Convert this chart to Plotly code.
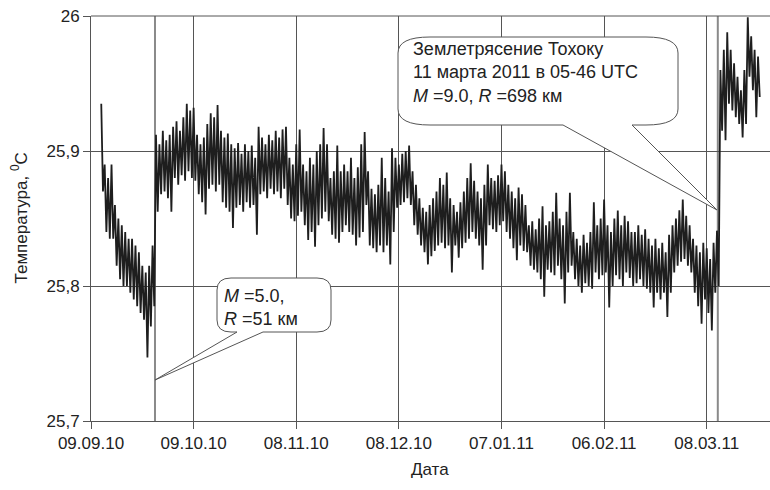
import pandas as pd
import plotly.graph_objects as go

# ---- data ----
start_date = "2010-09-09"
first_day = 3  # first sample day after start_date

# daily upper envelope of the temperature record, deg C
hi = [
    25.935, 25.89, 25.88, 25.89, 25.86, 25.85, 25.845, 25.84, 25.835, 25.835,      # d3-12
    25.83, 25.825, 25.815, 25.81, 25.815, 25.83, 25.912, 25.905, 25.915, 25.908,   # d13-22
    25.912, 25.918, 25.922, 25.915, 25.925, 25.935, 25.93, 25.932, 25.912, 25.905, # d23-32
    25.91, 25.92, 25.928, 25.925, 25.934, 25.915, 25.91, 25.913, 25.905, 25.902,   # d33-42
    25.906, 25.898, 25.905, 25.90, 25.904, 25.895, 25.918, 25.91, 25.905, 25.912,  # d43-52
    25.908, 25.915, 25.91, 25.916, 25.918, 25.895, 25.89, 25.905, 25.916, 25.89,   # d53-62
    25.885, 25.895, 25.89, 25.90, 25.905, 25.917, 25.905, 25.88, 25.885, 25.904,   # d63-72
    25.885, 25.89, 25.885, 25.895, 25.88, 25.888, 25.905, 25.914, 25.885, 25.872,  # d73-82
    25.868, 25.875, 25.895, 25.88, 25.87, 25.902, 25.895, 25.89, 25.898, 25.90,    # d83-92
    25.904, 25.885, 25.875, 25.865, 25.858, 25.855, 25.86, 25.865, 25.87, 25.88,   # d93-102
    25.875, 25.884, 25.865, 25.86, 25.855, 25.862, 25.87, 25.88, 25.891, 25.878,   # d103-112
    25.87, 25.865, 25.875, 25.89, 25.88, 25.878, 25.882, 25.89, 25.885, 25.875,    # d113-122
    25.87, 25.865, 25.873, 25.868, 25.86, 25.845, 25.848, 25.842, 25.85, 25.859,   # d123-132
    25.845, 25.848, 25.855, 25.869, 25.85, 25.845, 25.855, 25.869, 25.84, 25.835,  # d133-142
    25.83, 25.838, 25.832, 25.84, 25.862, 25.845, 25.85, 25.864, 25.845, 25.84,    # d143-152
    25.85, 25.856, 25.845, 25.852, 25.848, 25.84, 25.84, 25.845, 25.838, 25.842,   # d153-162
    25.835, 25.83, 25.835, 25.828, 25.832, 25.825, 25.838, 25.845, 25.85, 25.856,  # d163-172
    25.864, 25.852, 25.845, 25.835, 25.83, 25.825, 25.832, 25.828, 25.82, 25.832,  # d173-182
    25.841, 25.96, 25.975, 25.988, 25.975, 25.965, 25.955, 25.945, 25.96, 25.999,  # d183-192
    25.985, 25.975, 25.97,                                                         # d193-195
]
# daily lower envelope, deg C
lo = [
    25.87, 25.84, 25.835, 25.835, 25.815, 25.805, 25.80, 25.80, 25.795, 25.79,
    25.785, 25.78, 25.775, 25.747, 25.77, 25.785, 25.855, 25.868, 25.87, 25.865,
    25.855, 25.88, 25.875, 25.882, 25.878, 25.885, 25.88, 25.878, 25.868, 25.862,
    25.853, 25.872, 25.875, 25.87, 25.875, 25.862, 25.858, 25.855, 25.843, 25.858,
    25.86, 25.855, 25.862, 25.858, 25.86, 25.838, 25.868, 25.87, 25.865, 25.872,
    25.868, 25.87, 25.865, 25.872, 25.86, 25.85, 25.848, 25.852, 25.855, 25.845,
    25.834, 25.84, 25.829, 25.845, 25.85, 25.855, 25.848, 25.838, 25.835, 25.832,
    25.84, 25.845, 25.84, 25.838, 25.83, 25.836, 25.84, 25.86, 25.83, 25.828,
    25.825, 25.83, 25.825, 25.83, 25.816, 25.84, 25.858, 25.86, 25.862, 25.865,
    25.86, 25.845, 25.838, 25.83, 25.825, 25.816, 25.822, 25.826, 25.83, 25.832,
    25.828, 25.83, 25.81, 25.83, 25.821, 25.828, 25.832, 25.835, 25.84, 25.835,
    25.83, 25.812, 25.83, 25.845, 25.842, 25.84, 25.845, 25.848, 25.84, 25.835,
    25.828, 25.819, 25.83, 25.826, 25.825, 25.815, 25.812, 25.81, 25.805, 25.792,
    25.812, 25.81, 25.808, 25.815, 25.805, 25.787, 25.81, 25.815, 25.805, 25.80,
    25.795, 25.802, 25.80, 25.798, 25.81, 25.805, 25.808, 25.81, 25.784, 25.80,
    25.808, 25.805, 25.80, 25.81, 25.806, 25.80, 25.802, 25.805, 25.80, 25.798,
    25.795, 25.784, 25.795, 25.79, 25.795, 25.777, 25.795, 25.81, 25.815, 25.818,
    25.82, 25.815, 25.81, 25.795, 25.785, 25.772, 25.79, 25.78, 25.767, 25.795,
    25.80, 25.915, 25.908, 25.935, 25.93, 25.925, 25.92, 25.91, 25.92, 25.955,
    25.945, 25.925, 25.94,
]

tick_dates = ["2010-09-09", "2010-10-09", "2010-11-08", "2010-12-08",
              "2011-01-07", "2011-02-06", "2011-03-08"]
tick_labels = ["09.09.10", "09.10.10", "08.11.10", "08.12.10",
               "07.01.11", "06.02.11", "08.03.11"]
y_ticks = [25.7, 25.8, 25.9, 26.0]
y_labels = ["25,7", "25,8", "25,9", "26"]
quake_times = ["2010-09-27 17:00", "2011-03-11 05:46"]
x_range = ["2010-09-09", "2011-03-26 12:00"]

# ---- build series ----
t0 = pd.Timestamp(start_date)
xs, ys = [], []
for i, (h, l) in enumerate(zip(hi, lo)):
    d = first_day + i
    xs.append(t0 + pd.Timedelta(days=d))
    ys.append(h)
    xs.append(t0 + pd.Timedelta(days=d + 0.5))
    ys.append(l)

FONT = "Arial, Liberation Sans, sans-serif"
TXT = "#222222"
GRID = "#555555"

fig = go.Figure()
fig.add_trace(go.Scatter(x=xs, y=ys, mode="lines",
                         line=dict(color="#1e1e1e", width=1.8),
                         showlegend=False, hoverinfo="skip"))

# plot-area geometry in pixels (for callouts)
L, R, T, B = 91, 770, 16, 421
W, H = R - L, B - T


def px(xp):
    return (xp - L) / W


def py(yp):
    return (B - yp) / H


def callout(x0, y0, x1, y1, rx, ry, wedge):
    """rounded box (pixel coords) with a wedge on the bottom edge.
    wedge = (base_right_x, tip_x, tip_y, base_left_x)"""
    br, tx, ty, bl = wedge
    pts = []
    pts.append(f"M{px(x0 + rx)},{py(y0)}")
    pts.append(f"L{px(x1 - rx)},{py(y0)}")
    pts.append(f"Q{px(x1)},{py(y0)} {px(x1)},{py(y0 + ry)}")
    pts.append(f"L{px(x1)},{py(y1 - ry)}")
    pts.append(f"Q{px(x1)},{py(y1)} {px(x1 - rx)},{py(y1)}")
    pts.append(f"L{px(br)},{py(y1)}")
    pts.append(f"L{px(tx)},{py(ty)}")
    pts.append(f"L{px(bl)},{py(y1)}")
    pts.append(f"L{px(x0 + rx)},{py(y1)}")
    pts.append(f"Q{px(x0)},{py(y1)} {px(x0)},{py(y1 - ry)}")
    pts.append(f"L{px(x0)},{py(y0 + ry)}")
    pts.append(f"Q{px(x0)},{py(y0)} {px(x0 + rx)},{py(y0)}")
    pts.append("Z")
    return " ".join(pts)


shapes = []
for qt in quake_times:
    shapes.append(dict(type="line", xref="x", yref="paper", x0=qt, x1=qt, y0=0, y1=1,
                       line=dict(color="#8a8a8a", width=2), layer="below"))
shapes.append(dict(type="line", xref="paper", yref="paper", x0=0, x1=1, y0=1, y1=1,
                   line=dict(color=GRID, width=1)))
shapes.append(dict(type="path", xref="paper", yref="paper",
                   path=callout(217, 278, 331, 332, 14, 12, (263, 155, 380, 237)),
                   fillcolor="white", line=dict(color="#555555", width=1), layer="above"))
shapes.append(dict(type="path", xref="paper", yref="paper",
                   path=callout(398, 37, 678, 125, 32, 16, (632, 717, 210, 563)),
                   fillcolor="white", line=dict(color="#555555", width=1), layer="above"))

annotations = [
    dict(xref="paper", yref="paper", x=px(222), y=py(307.5), xanchor="left", yanchor="middle",
         align="left", showarrow=False,
         text="<i>M</i> =5.0,<br><i>R</i> =51 км",
         font=dict(family=FONT, size=18, color=TXT)),
    dict(xref="paper", yref="paper", x=px(411), y=py(72), xanchor="left", yanchor="middle",
         align="left", showarrow=False,
         text="Землетрясение Тохоку<br>11 марта 2011 в 05-46 UTC<br><i>M</i> =9.0, <i>R</i> =698 км",
         font=dict(family=FONT, size=18, color=TXT)),
    dict(xref="paper", yref="paper", x=px(19), y=0.5, xanchor="center", yanchor="middle",
         textangle=-90, showarrow=False,
         text="Температура, <sup>0</sup>C",
         font=dict(family=FONT, size=17, color=TXT)),
    dict(xref="paper", yref="paper", x=px(430), y=py(470), xanchor="center", yanchor="middle",
         showarrow=False, text="Дата",
         font=dict(family=FONT, size=17, color=TXT)),
]

fig.update_layout(
    width=770, height=490,
    margin=dict(l=L, r=770 - R, t=T, b=490 - B, pad=0),
    paper_bgcolor="white", plot_bgcolor="white",
    font=dict(family=FONT, size=17, color=TXT),
    shapes=shapes, annotations=annotations, showlegend=False,
    xaxis=dict(type="date", range=x_range, tickmode="array",
               tickvals=tick_dates, ticktext=tick_labels,
               showgrid=True, gridcolor=GRID, gridwidth=1,
               showline=True, linecolor=GRID, linewidth=1,
               ticks="outside", ticklen=7, tickcolor=GRID,
               tickfont=dict(family=FONT, size=17, color=TXT),
               zeroline=False),
    yaxis=dict(range=[25.7, 26.0], tickmode="array",
               tickvals=y_ticks, ticktext=y_labels,
               showgrid=True, gridcolor=GRID, gridwidth=1,
               showline=True, linecolor=GRID, linewidth=1,
               ticks="outside", ticklen=7, tickcolor=GRID,
               tickfont=dict(family=FONT, size=17, color=TXT),
               zeroline=False),
)

fig.write_html("out.html")
